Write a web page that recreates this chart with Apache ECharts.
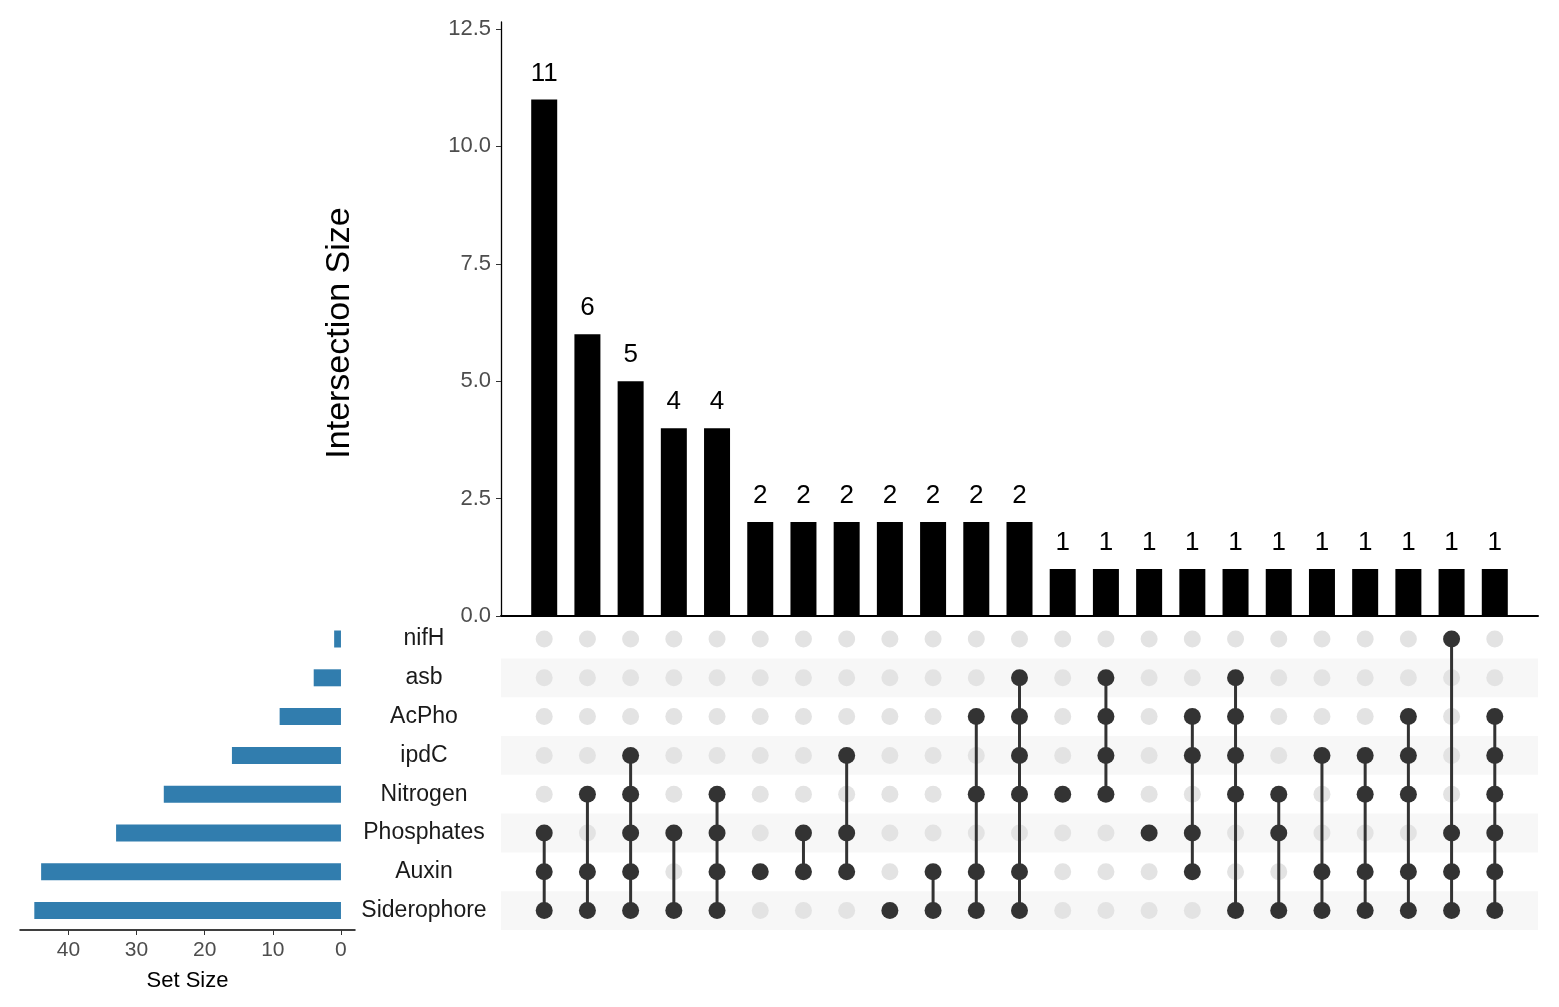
<!DOCTYPE html>
<html>
<head>
<meta charset="utf-8">
<title>UpSet plot</title>
<script src="https://cdn.jsdelivr.net/npm/echarts@6/dist/echarts.min.js"></script>
<style>
  html, body { margin: 0; padding: 0; background: #fff; }
  #main { width: 1559px; height: 1007px; }
</style>
</head>
<body>
<div id="main"></div>
<script>
// sets, top to bottom in the matrix
var setNames = ['nifH', 'asb', 'AcPho', 'ipdC', 'Nitrogen', 'Phosphates', 'Auxin', 'Siderophore'];
var setSizes = [1, 4, 9, 16, 26, 33, 44, 45];

// intersections, left to right
var intersectionSizes = [11, 6, 5, 4, 4, 2, 2, 2, 2, 2, 2, 2, 1, 1, 1, 1, 1, 1, 1, 1, 1, 1, 1];
var intersectionMembers = [
  ['Phosphates', 'Auxin', 'Siderophore'],
  ['Nitrogen', 'Auxin', 'Siderophore'],
  ['ipdC', 'Nitrogen', 'Phosphates', 'Auxin', 'Siderophore'],
  ['Phosphates', 'Siderophore'],
  ['Nitrogen', 'Phosphates', 'Auxin', 'Siderophore'],
  ['Auxin'],
  ['Phosphates', 'Auxin'],
  ['ipdC', 'Phosphates', 'Auxin'],
  ['Siderophore'],
  ['Auxin', 'Siderophore'],
  ['AcPho', 'Nitrogen', 'Auxin', 'Siderophore'],
  ['asb', 'AcPho', 'ipdC', 'Nitrogen', 'Auxin', 'Siderophore'],
  ['Nitrogen'],
  ['asb', 'AcPho', 'ipdC', 'Nitrogen'],
  ['Phosphates'],
  ['AcPho', 'ipdC', 'Phosphates', 'Auxin'],
  ['asb', 'AcPho', 'ipdC', 'Nitrogen', 'Siderophore'],
  ['Nitrogen', 'Phosphates', 'Siderophore'],
  ['ipdC', 'Auxin', 'Siderophore'],
  ['ipdC', 'Nitrogen', 'Auxin', 'Siderophore'],
  ['AcPho', 'ipdC', 'Nitrogen', 'Auxin', 'Siderophore'],
  ['nifH', 'Phosphates', 'Auxin', 'Siderophore'],
  ['AcPho', 'ipdC', 'Nitrogen', 'Phosphates', 'Auxin', 'Siderophore']
];

var intersectionTicks = [0, 2.5, 5, 7.5, 10, 12.5];
var setSizeTicks = [0, 10, 20, 30, 40];

// build chart data from the arrays above
var barData = intersectionSizes.map(function (v, i) { return [i + 1, v]; });
var activeDots = [], inactiveDots = [], segments = [];
intersectionMembers.forEach(function (members, i) {
  var rows = [];
  setNames.forEach(function (name, r) {
    if (members.indexOf(name) >= 0) {
      activeDots.push([i + 1, r]);
      rows.push(r);
    } else {
      inactiveDots.push([i + 1, r]);
    }
  });
  if (rows.length > 1) {
    segments.push([i + 1, Math.min.apply(null, rows), Math.max.apply(null, rows)]);
  }
});
// every second row gets a light stripe
var stripeRows = [];
for (var r = 1; r < setNames.length; r += 2) stripeRows.push([r]);

var font = 'Liberation Sans, Arial, Helvetica, sans-serif';
var chart = echarts.init(document.getElementById('main'));

chart.setOption({
  backgroundColor: '#fff',
  animation: false,
  grid: [
    { left: 501, width: 1037, top: 22, height: 594 },      // intersection bars
    { left: 501, width: 1037, top: 619.6, height: 310.4 }, // matrix
    { left: 20, width: 335, top: 619.6, height: 310.4 }    // set size bars
  ],
  xAxis: [
    {
      gridIndex: 0, type: 'value', min: 0, max: 24,
      axisLine: { show: true, lineStyle: { color: '#000', width: 2 } },
      axisTick: { show: false }, axisLabel: { show: false }, splitLine: { show: false }
    },
    {
      gridIndex: 1, type: 'value', min: 0, max: 24, show: false
    },
    {
      gridIndex: 2, type: 'value', inverse: true, min: -2.06, max: 47.1,
      position: 'bottom',
      axisLine: { show: true, lineStyle: { color: '#000', width: 1.5 } },
      axisTick: { show: true, length: 5, lineStyle: { color: '#333' }, customValues: setSizeTicks },
      axisLabel: { fontFamily: font, fontSize: 21, color: '#4d4d4d', margin: 10, customValues: setSizeTicks },
      splitLine: { show: false },
      name: 'Set Size', nameLocation: 'middle', nameGap: 40,
      nameTextStyle: { fontFamily: font, fontSize: 22, color: '#000' }
    }
  ],
  yAxis: [
    {
      gridIndex: 0, type: 'value', min: 0, max: 12.65,
      axisLine: { show: true, lineStyle: { color: '#000', width: 1.3 } },
      axisTick: { show: true, length: 5, lineStyle: { color: '#333' }, customValues: intersectionTicks },
      axisLabel: {
        fontFamily: font, fontSize: 22, color: '#4d4d4d', margin: 10,
        customValues: intersectionTicks,
        formatter: function (v) { return v.toFixed(1); }
      },
      splitLine: { show: false },
      name: 'Intersection Size', nameLocation: 'middle', nameRotate: 90, nameGap: 144,
      nameTextStyle: { fontFamily: font, fontSize: 34, color: '#000', padding: [0, 28, 0, 0] }
    },
    {
      gridIndex: 1, type: 'category', data: setNames, inverse: true,
      axisLine: { show: false }, axisTick: { show: false },
      axisLabel: { fontFamily: font, fontSize: 23, color: '#1a1a1a', align: 'center', margin: 77,
        padding: [3, 0, 0, 0] }
    },
    {
      gridIndex: 2, type: 'category', data: setNames, inverse: true, show: false
    }
  ],
  series: [
    {
      type: 'bar', xAxisIndex: 0, yAxisIndex: 0,
      data: barData, barWidth: 26,
      itemStyle: { color: '#000' },
      label: { show: true, position: 'top', distance: 13, fontFamily: font, fontSize: 26, color: '#000',
        formatter: function (p) { return p.value[1]; } }
    },
    {
      // row stripes
      type: 'custom', xAxisIndex: 1, yAxisIndex: 1,
      data: stripeRows, silent: true,
      renderItem: function (params, api) {
        var c = api.coord([0, api.value(0)]);
        var h = api.size([0, 1])[1];
        return {
          type: 'rect',
          shape: { x: params.coordSys.x, y: c[1] - h / 2, width: params.coordSys.width, height: h },
          style: { fill: '#f7f7f7' }
        };
      },
      z: 1
    },
    {
      type: 'scatter', xAxisIndex: 1, yAxisIndex: 1,
      data: inactiveDots, symbolSize: 17,
      itemStyle: { color: '#e3e3e3', opacity: 1 },
      z: 2
    },
    {
      type: 'custom', xAxisIndex: 1, yAxisIndex: 1,
      data: segments,
      renderItem: function (params, api) {
        var a = api.coord([api.value(0), api.value(1)]);
        var b = api.coord([api.value(0), api.value(2)]);
        return {
          type: 'line',
          shape: { x1: a[0], y1: a[1], x2: b[0], y2: b[1] },
          style: { stroke: '#333', lineWidth: 3 }
        };
      },
      z: 3
    },
    {
      type: 'scatter', xAxisIndex: 1, yAxisIndex: 1,
      data: activeDots, symbolSize: 17,
      itemStyle: { color: '#333', opacity: 1 },
      z: 4
    },
    {
      type: 'bar', xAxisIndex: 2, yAxisIndex: 2,
      data: setSizes, barWidth: 17,
      itemStyle: { color: '#317dae' }
    }
  ]
});
</script>
</body>
</html>
